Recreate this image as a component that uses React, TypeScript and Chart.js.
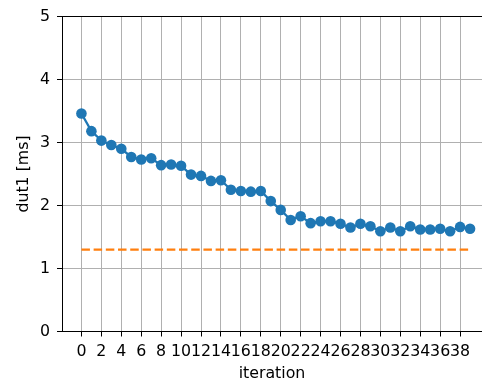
import React, { useEffect, useRef } from "react";
import { Chart, registerables } from "chart.js";

Chart.register(...registerables);

// Per-iteration timing of dut1, in milliseconds
const iterations: number[] = Array.from({ length: 40 }, (_, i) => i);
const dut1Ms: number[] = [
  3.46, 3.18, 3.03, 2.96, 2.9, 2.77, 2.73, 2.75, 2.64, 2.65,
  2.63, 2.49, 2.47, 2.39, 2.4, 2.25, 2.23, 2.22, 2.23, 2.07,
  1.93, 1.77, 1.83, 1.72, 1.75, 1.75, 1.71, 1.65, 1.71, 1.67,
  1.59, 1.65, 1.59, 1.67, 1.62, 1.62, 1.63, 1.59, 1.66, 1.63,
];
// Reference level drawn as a dashed line across the run
const referenceMs = 1.3;
const referenceSpan: number[] = [0, 39];

const xTicks: number[] = [0, 2, 4, 6, 8, 10, 12, 14, 16, 18, 20, 22, 24, 26, 28, 30, 32, 34, 36, 38];
const yTicks: number[] = [0, 1, 2, 3, 4, 5];

const FONT = "'DejaVu Sans', sans-serif";
const FONT_SIZE = 15.8;
const GRID = "#b0b0b0";

export default function App() {
  const canvasRef = useRef<HTMLCanvasElement | null>(null);

  useEffect(() => {
    const canvas = canvasRef.current;
    if (!canvas) return;

    const chart = new Chart(canvas, {
      type: "line",
      data: {
        datasets: [
          {
            label: "dut1",
            data: iterations.map((x, i) => ({ x, y: dut1Ms[i] })),
            borderColor: "#1f77b4",
            backgroundColor: "#1f77b4",
            borderWidth: 2.3,
            pointRadius: 5.3,
            pointBorderWidth: 0,
            pointBackgroundColor: "#1f77b4",
            tension: 0,
          },
          {
            label: "reference",
            data: referenceSpan.map((x) => ({ x, y: referenceMs })),
            borderColor: "#ff7f0e",
            borderWidth: 2.3,
            borderDash: [8.5, 3.7],
            pointRadius: 0,
            tension: 0,
          },
        ],
      },
      options: {
        responsive: false,
        animation: false,
        devicePixelRatio: 1,
        layout: { autoPadding: false, padding: { top: 12.7, right: 0, left: 0, bottom: 0 } },
        plugins: {
          legend: { display: false },
          tooltip: { enabled: false },
        },
        scales: {
          x: {
            type: "linear",
            min: -1.95,
            max: 40.2,
            afterFit: (scale: any) => {
              scale.height = 51.5;
            },
            afterBuildTicks: (scale: any) => {
              scale.ticks = xTicks.map((v) => ({ value: v }));
            },
            ticks: {
              autoSkip: false,
              maxRotation: 0,
              padding: 6,
              color: "#000",
              font: { family: FONT, size: FONT_SIZE },
              callback: (v: any) => String(v),
            },
            grid: {
              color: GRID,
              lineWidth: 1,
              tickColor: "#000",
              tickLength: 5,
            },
            border: { display: true, color: "#000", width: 1 },
            title: {
              display: true,
              text: "iteration",
              color: "#000",
              font: { family: FONT, size: FONT_SIZE },
              padding: { top: 0, bottom: 0 },
            },
          },
          y: {
            type: "linear",
            min: 0,
            max: 5,
            afterFit: (scale: any) => {
              scale.width = 62;
            },
            afterBuildTicks: (scale: any) => {
              scale.ticks = yTicks.map((v) => ({ value: v }));
            },
            ticks: {
              padding: 7,
              color: "#000",
              font: { family: FONT, size: FONT_SIZE },
              callback: (v: any) => String(v),
            },
            grid: {
              color: (ctx: any) => (ctx.tick && ctx.tick.value === 5 ? "#000" : GRID),
              lineWidth: 1,
              tickColor: "#000",
              tickLength: 5,
            },
            border: { display: true, color: "#000", width: 1 },
            title: {
              display: true,
              text: "dut1 [ms]",
              color: "#000",
              font: { family: FONT, size: FONT_SIZE },
              padding: { top: 14, bottom: 0 },
            },
          },
        },
      },
    });

    return () => chart.destroy();
  }, []);

  return (
    <div style={{ position: "absolute", left: 0, top: 0, width: 482, height: 383, background: "#fff" }}>
      <canvas ref={canvasRef} width={482} height={383} style={{ display: "block" }} />
    </div>
  );
}
